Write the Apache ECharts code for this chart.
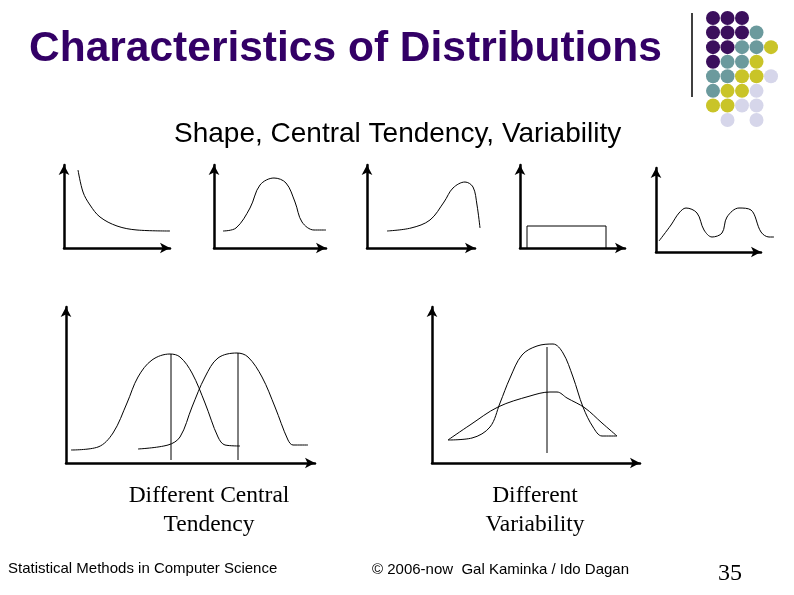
<!DOCTYPE html>
<html>
<head>
<meta charset="utf-8">
<script src="https://cdn.jsdelivr.net/npm/echarts@6/dist/echarts.min.js"></script>
<style>html,body{margin:0;padding:0;background:#fff}#main{width:794px;height:595px}</style>
</head>
<body>
<div id="main"></div>
<script>
// small shape sketches (units = pixels from the axis origin)
var skewDecay = [[14,78],[19,56],[26,43],[36,31],[53,22],[73,18],[106,17]];
var bell = [[9,17],[22,20],[36,40],[46,63],[60,70],[72,65],[81,46],[88,26],[100,18],[112,18]];
var skewLeft = [[20,17],[44,20],[63,28],[77,46],[86,60],[98,66],[106,61],[110,43],[113,20]];
var uniform = [[7,0],[7,22],[86,22],[86,0]];
var bimodal = [[3,11],[15,27],[23,39],[30,44],[41,39],[48,22],[56,15],[66,19],[71,35],[83,44],[95,42],[105,20],[113,15],[118,15]];

// central tendency
var bellA = [[5,13],[32,16],[47,30],[61,60],[72,86],[86,103],[104,109],[114,106],[126,90],[139,60],[152,26],[159,18],[174,17]];
var bellB = [[72,14],[102,18],[114,26],[126,56],[139,86],[152,105],[171,110],[182,106],[196,86],[209,56],[222,23],[227,18],[242,18]];
var meanA = [[105,3],[105,109]];
var meanB = [[172,3],[172,110]];

// variability
var narrow = [[16,23],[40,25],[58,36],[68,60],[78,85],[90,108],[105,117],[121,119],[131,110],[141,86],[151,56],[161,36],[170,27],[185,27]];
var wide = [[16,23],[38,38],[66,56],[98,67],[118,71],[125,71],[135,65],[153,55],[170,40],[185,27]];
var meanV = [[115,10],[115,116]];

// logo dots: [col, row, colour]
var dotColors = ['#3b0f5c', '#6b9a9d', '#c9c428', '#d6d6ea'];
var dots = [
  [0,0,0],[1,0,0],[2,0,0],
  [0,1,0],[1,1,0],[2,1,0],[3,1,1],
  [0,2,0],[1,2,0],[2,2,1],[3,2,1],[4,2,2],
  [0,3,0],[1,3,1],[2,3,1],[3,3,2],
  [0,4,1],[1,4,1],[2,4,2],[3,4,2],[4,4,3],
  [0,5,1],[1,5,2],[2,5,2],[3,5,3],
  [0,6,2],[1,6,2],[2,6,3],[3,6,3],
  [1,7,3],[3,7,3]
];

var panels = [
  {left:64, top:165, w:106, h:83, curves:[skewDecay]},
  {left:214, top:165, w:112, h:83, curves:[bell]},
  {left:367, top:165, w:108, h:83, curves:[skewLeft]},
  {left:520, top:165, w:105, h:83, curves:[uniform]},
  {left:656, top:168, w:105, h:84, curves:[bimodal]},
  {left:66, top:307, w:249, h:156, curves:[bellA, bellB, meanA, meanB]},
  {left:432, top:307, w:208, h:156, curves:[narrow, wide, meanV]}
];

var grids = [], xAxes = [], yAxes = [], series = [];
var axisLine = {show:true, lineStyle:{color:'#000', width:2.5}, symbol:['none','arrow'], symbolSize:[8,10]};
var hidden = {axisLine:{show:false}, axisTick:{show:false}, axisLabel:{show:false}, splitLine:{show:false}};
panels.forEach(function (p) {
  // visible axes
  var g = grids.length;
  grids.push({left:p.left, top:p.top, width:p.w, height:p.h});
  xAxes.push({type:'value', gridIndex:g, min:0, max:p.w, axisLine:axisLine, axisTick:{show:false}, axisLabel:{show:false}, splitLine:{show:false}});
  yAxes.push({type:'value', gridIndex:g, min:0, max:p.h, axisLine:axisLine, axisTick:{show:false}, axisLabel:{show:false}, splitLine:{show:false}});
  // same scale, wider, so curves may run past the arrow
  var c = grids.length;
  grids.push({left:p.left, top:p.top, width:p.w + 30, height:p.h});
  xAxes.push(Object.assign({type:'value', gridIndex:c, min:0, max:p.w + 30}, hidden));
  yAxes.push(Object.assign({type:'value', gridIndex:c, min:0, max:p.h}, hidden));
  p.curves.forEach(function (d) {
    series.push({type:'line', xAxisIndex:c, yAxisIndex:c, data:d, smooth:d.length > 4 ? 0.35 : false,
      showSymbol:false, clip:false, silent:true, lineStyle:{color:'#000', width:1}});
  });
});

// dot grid
var di = grids.length;
grids.push({left:713, top:18, width:58, height:102});
xAxes.push({type:'value', gridIndex:di, min:0, max:4, show:false});
yAxes.push({type:'value', gridIndex:di, min:0, max:7, inverse:true, show:false});
series.push({type:'scatter', xAxisIndex:di, yAxisIndex:di, symbolSize:14, silent:true,
  data:dots.map(function (d) { return {value:[d[0], d[1]], itemStyle:{color:dotColors[d[2]], opacity:1}}; })});

var chart = echarts.init(document.getElementById('main'));
chart.setOption({
  backgroundColor:'#fff',
  animation:false,
  grid:grids, xAxis:xAxes, yAxis:yAxes, series:series,
  graphic:[
    {type:'line', shape:{x1:692, y1:13, x2:692, y2:97}, style:{stroke:'#000', lineWidth:1.5}},
    {type:'text', left:29, top:28, style:{text:'Characteristics of Distributions', fontFamily:'Liberation Sans', fontWeight:'bold', fontSize:42.5, fill:'#330066'}},
    {type:'text', left:174, top:120, style:{text:'Shape, Central Tendency, Variability', fontFamily:'Liberation Sans', fontSize:28, fill:'#000'}},
    {type:'text', x:209, y:481, style:{text:'Different Central\nTendency', textAlign:'center', fontFamily:'Liberation Serif', fontSize:23.5, lineHeight:29, fill:'#000'}},
    {type:'text', x:535, y:481, style:{text:'Different\nVariability', textAlign:'center', fontFamily:'Liberation Serif', fontSize:23.5, lineHeight:29, fill:'#000'}},
    {type:'text', left:8, top:561, style:{text:'Statistical Methods in Computer Science', fontFamily:'Liberation Sans', fontSize:15, fill:'#000'}},
    {type:'text', left:372, top:562, style:{text:'© 2006-now  Gal Kaminka / Ido Dagan', fontFamily:'Liberation Sans', fontSize:15, fill:'#000'}},
    {type:'text', left:718, top:562, style:{text:'35', fontFamily:'Liberation Serif', fontSize:24, fill:'#000'}}
  ]
});
</script>
</body>
</html>
